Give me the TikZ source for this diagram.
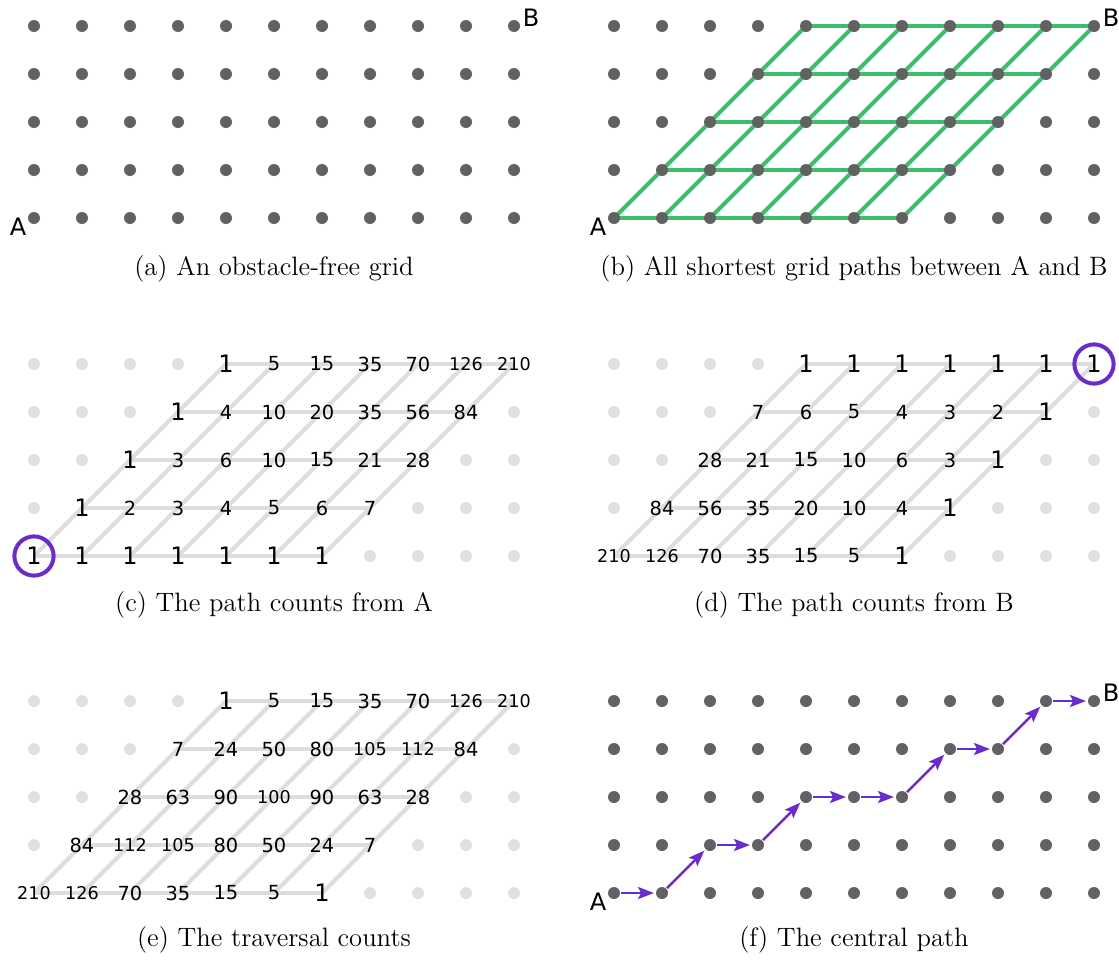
\documentclass[tikz,border=0pt]{standalone}
\usepackage{fontspec}
\newfontfamily\labfont{DejaVu Sans}
\usetikzlibrary{arrows.meta}
\definecolor{dotgray}{HTML}{616161}
\definecolor{lightdot}{HTML}{E0E0E0}
\definecolor{lightline}{HTML}{DDDDDD}
\definecolor{pathgreen}{HTML}{3DBE6A}
\definecolor{ringpurple}{HTML}{6A2BC8}
\newcommand\cntnum[1]{\ifnum#1=1 \fontsize{12}{12}\selectfont\else\ifnum#1>99 \fontsize{8.8}{9}\selectfont\else\fontsize{9.7}{10}\selectfont\fi\fi #1}
\begin{document}
\begin{tikzpicture}[x=0.5pt,y=-0.5pt,
  ddot/.style={circle,fill=dotgray,draw=none,minimum size=6pt,inner sep=0pt,outer sep=0pt},
  ldot/.style={circle,fill=lightdot,draw=none,minimum size=6pt,inner sep=0pt,outer sep=0pt},
  gline/.style={draw=pathgreen,line width=2pt},
  lline/.style={draw=lightline,line width=2pt},
  numlabel/.style={inner sep=0pt,font=\labfont,text=black},
  ptlabel/.style={inner sep=0pt,font=\labfont\fontsize{12}{12}\selectfont,text=black},
  ring/.style={circle,draw=ringpurple,line width=2pt,minimum size=19.6pt,inner sep=0pt},
  parrow/.style={draw=ringpurple,line width=1.25pt,-{Stealth[length=8pt,width=6pt,inset=1.6pt]},shorten <=0.5pt,shorten >=1pt},
  capstyle/.style={anchor=base,inner sep=0pt,font=\fontsize{13.3}{16}\selectfont}]
\useasboundingbox (0,0) rectangle (1119,964);
% coordinates
\foreach \p/\X/\Y in {a/34/26,b/614/26,c/34/364,d/614/364,e/34/701,f/614/701}{
  \foreach \i in {0,...,10}{
    \foreach \j in {0,...,4}{
      \coordinate (\p-\i-\j) at ({\X+48*\i},{\Y+48*(4-\j)});
    }
  }
}
% (a)
\foreach \i in {0,...,10}{\foreach \j in {0,...,4}{\node[ddot] (ad-\i-\j) at (a-\i-\j) {};}}
\node[ptlabel] (aA) at ([shift={(-16,9)}]a-0-0) {A};
\node[ptlabel] (aB) at ([shift={(17,-8)}]a-10-4) {B};
\node[capstyle] (capa) at (274,275) {(a) An obstacle-free grid};
% (b)
\foreach \j in {0,...,4}{\pgfmathtruncatemacro\e{\j+6}\draw[gline] (b-\j-\j) -- (b-\e-\j);}
\foreach \k in {0,...,6}{\pgfmathtruncatemacro\e{\k+4}\draw[gline] (b-\k-0) -- (b-\e-4);}
\foreach \i in {0,...,10}{\foreach \j in {0,...,4}{\node[ddot] (bd-\i-\j) at (b-\i-\j) {};}}
\node[ptlabel] (bA) at ([shift={(-16,9)}]b-0-0) {A};
\node[ptlabel] (bB) at ([shift={(17,-8)}]b-10-4) {B};
\node[capstyle] (capb) at (854,275) {(b) All shortest grid paths between A and B};
% (c),(d),(e) lines and light dots
\foreach \p in {c,d,e}{
  \foreach \j in {0,...,4}{\pgfmathtruncatemacro\e{\j+6}\draw[lline] (\p-\j-\j) -- (\p-\e-\j);}
  \foreach \k in {0,...,6}{\pgfmathtruncatemacro\e{\k+4}\draw[lline] (\p-\k-0) -- (\p-\e-4);}
  \foreach \i in {0,...,10}{\foreach \j in {0,...,4}{
    \pgfmathtruncatemacro\inside{(\i>=\j)&&(\i<=\j+6)}
    \ifnum\inside=0 \node[ldot] (\p d-\i-\j) at (\p-\i-\j) {};\fi
  }}
}
% numbers
\foreach \p/\j/\vals in {
  c/0/{1,1,1,1,1,1,1}, c/1/{1,2,3,4,5,6,7}, c/2/{1,3,6,10,15,21,28}, c/3/{1,4,10,20,35,56,84}, c/4/{1,5,15,35,70,126,210},
  d/0/{210,126,70,35,15,5,1}, d/1/{84,56,35,20,10,4,1}, d/2/{28,21,15,10,6,3,1}, d/3/{7,6,5,4,3,2,1}, d/4/{1,1,1,1,1,1,1},
  e/0/{210,126,70,35,15,5,1}, e/1/{84,112,105,80,50,24,7}, e/2/{28,63,90,100,90,63,28}, e/3/{7,24,50,80,105,112,84}, e/4/{1,5,15,35,70,126,210}}{
  \foreach \v [count=\k from 0] in \vals {
    \pgfmathtruncatemacro\ii{\j+\k}
    \node[numlabel] (\p n-\ii-\j) at (\p-\ii-\j) {\cntnum{\v}};
  }
}
\node[ring] (ringA) at (c-0-0) {};
\node[ring] (ringB) at (d-10-4) {};
\node[capstyle] (capc) at (274,611) {(c) The path counts from A};
\node[capstyle] (capd) at (854,611) {(d) The path counts from B};
\node[capstyle] (cape) at (274,946) {(e) The traversal counts};
% (f)
\foreach \i in {0,...,10}{\foreach \j in {0,...,4}{\node[ddot] (fd-\i-\j) at (f-\i-\j) {};}}
\foreach \a/\b in {0-0/1-0,1-0/2-1,2-1/3-1,3-1/4-2,4-2/5-2,5-2/6-2,6-2/7-3,7-3/8-3,8-3/9-4,9-4/10-4}{
  \draw[parrow] (fd-\a) -- (fd-\b);
}
\node[ptlabel] (fA) at ([shift={(-16,9)}]f-0-0) {A};
\node[ptlabel] (fB) at ([shift={(17,-8)}]f-10-4) {B};
\node[capstyle] (capf) at (854,946) {(f) The central path};
\end{tikzpicture}
\end{document}
